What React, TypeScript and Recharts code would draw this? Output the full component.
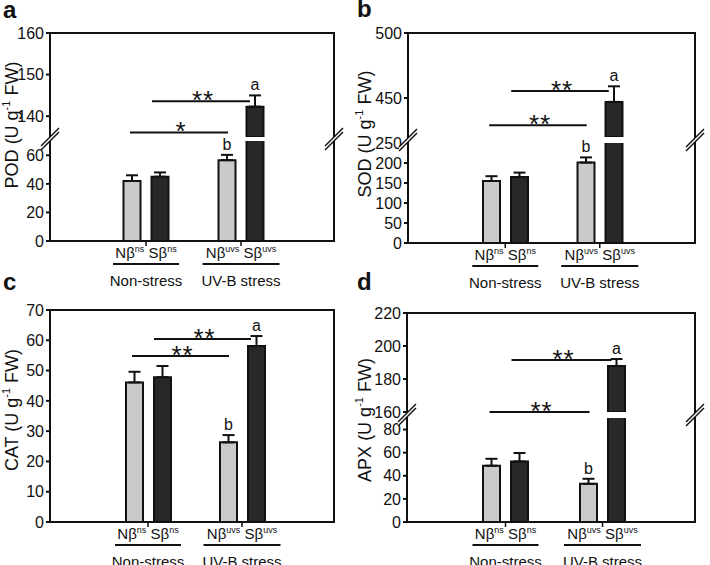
import React from "react";
import { Bar, BarChart, ErrorBar, LabelList, ReferenceLine, XAxis, YAxis } from "recharts";

const groups = ["Non-stress", "UV-B stress"];
const groupSup = ["ns", "uvs"];
const lettersN = ["", "b"];
const lettersS = ["", "a"];

// POD
const podN = [42, 56.6];
const podNErr = [4, 3.7];
const podS = [45, 142.3];
const podSErr = [3, 2.7];
const podTicksUpper = [140, 150, 160];
const podTicksLower = [0, 20, 40, 60];
const podSig = [
  { value: 143.6, text: "**", bar: "s" },
  { value: 136.1, text: "*", bar: "n" },
];

// SOD
const sodN = [155, 201];
const sodNErr = [12, 13];
const sodS = [165, 447];
const sodSErr = [11, 12];
const sodTicksUpper = [450, 500];
const sodTicksLower = [0, 50, 100, 150, 200, 250];
const sodSig = [
  { value: 455.4, text: "**", bar: "s" },
  { value: 429, text: "**", bar: "n" },
];

// CAT
const catN = [46.1, 26.3];
const catNErr = [3.5, 2.4];
const catS = [47.8, 58.1];
const catSErr = [3.7, 3.3];
const catTicks = [0, 10, 20, 30, 40, 50, 60, 70];
const catSig = [
  { value: 60.4, text: "**", bar: "s" },
  { value: 54.8, text: "**", bar: "n" },
];

// APX
const apxN = [48.7, 33];
const apxNErr = [6, 4.4];
const apxS = [52.4, 187.9];
const apxSErr = [7.3, 4.2];
const apxTicksUpper = [160, 180, 200, 220];
const apxTicksLower = [0, 20, 40, 60, 80];
const apxSig = [
  { value: 191.5, text: "**", bar: "s" },
  { value: 160, text: "**", bar: "n" },
];

const INK = "#111";
const YW = 45;
const TOP = 10;
const BOT = 10;
const XH = 60;

// bars below a segment's floor are left out of that segment
const makeRows = (n: number[], nErr: number[], s: number[], sErr: number[], lo: number) =>
  groups.map((g, i) => ({
    group: g,
    n: n[i] >= lo ? n[i] : null,
    nErr: n[i] >= lo ? [0, nErr[i]] : null,
    s: s[i] >= lo ? s[i] : null,
    sErr: s[i] >= lo ? [0, sErr[i]] : null,
  }));

const GroupTick = (props: any) => {
  const { x, y, payload } = props;
  const i = groups.indexOf(payload.value);
  const sup = groupSup[i] || "";
  const half = 22 + sup.length * 5.5;
  return (
    <g>
      <text x={x} y={y + 10} textAnchor="middle" fontSize={15} fill={INK}>
        Nβ
        <tspan fontSize={9} dy={-6}>{sup}</tspan>
        <tspan dy={6}>{"\u00a0Sβ"}</tspan>
        <tspan fontSize={9} dy={-6}>{sup}</tspan>
      </text>
      <line x1={x - half} x2={x + half} y1={y + 16} y2={y + 16} stroke={INK} strokeWidth={2} />
      <text x={x} y={y + 38} textAnchor="middle" fontSize={15} fill={INK}>
        {payload.value}
      </text>
    </g>
  );
};

const letterLabel =
  (letters: string[], values: number[], errs: number[], lo: number, hi: number) => (props: any) => {
    const value = props.value;
    const i = values.indexOf(value);
    const ch = letters[i];
    if (!ch || value == null || value <= lo || value + errs[i] > hi) return null;
    const vb = props.viewBox || props;
    const ppu = vb.height / (value - lo);
    const capY = vb.y - errs[i] * ppu;
    return (
      <text x={vb.x + vb.width / 2} y={capY - 5} textAnchor="middle" fontSize={16} fill={INK}>
        {ch}
      </text>
    );
  };

const SigMark = (props: any) => {
  const { x1, x2, y1, bar, text } = props;
  const a = bar === "n" ? x1 - 16 : x1 + 6;
  const b = bar === "n" ? x2 - 13 : x2 + 9;
  return (
    <g>
      <line x1={a} x2={b} y1={y1} y2={y1} stroke={INK} strokeWidth={2} />
      <text x={(a + b) / 2 + 2} y={y1 + 8} textAnchor="middle" fontSize={26} fill={INK} letterSpacing={1}>
        {text}
      </text>
    </g>
  );
};

type Seg = { domain: [number, number]; ticks: number[]; top: number; bottom: number };

const Segment = (props: { p: any; seg: Seg; last: boolean }) => {
  const { p, seg, last } = props;
  const [lo, hi] = seg.domain;
  const h = seg.bottom - seg.top;
  const width = p.right - p.left;
  const rows = makeRows(p.n, p.nErr, p.s, p.sErr, lo);
  return (
    <div style={{ position: "absolute", left: p.left - YW, top: seg.top - TOP }}>
      <BarChart
        width={YW + width + 10}
        height={TOP + h + (last ? XH : BOT)}
        data={rows}
        margin={{ top: TOP, right: 10, left: 0, bottom: last ? 0 : BOT }}
        barSize={17}
        barGap={11}
      >
        <XAxis
          dataKey="group"
          hide={!last}
          height={XH}
          axisLine={false}
          tickLine={{ stroke: INK, strokeWidth: 1.5 }}
          tickSize={5}
          padding={p.padding}
          interval={0}
          tick={<GroupTick />}
        />
        <YAxis
          type="number"
          width={YW}
          domain={seg.domain}
          ticks={seg.ticks}
          allowDataOverflow
          interval={0}
          axisLine={false}
          tickSize={4}
          tickMargin={2}
          tickLine={{ stroke: INK, strokeWidth: 2 }}
          tick={{ fontSize: 16, fill: INK }}
        />
        <Bar dataKey="n" fill="#cacaca" stroke={INK} strokeWidth={2} isAnimationActive={false}>
          <ErrorBar dataKey="nErr" width={6} stroke={INK} strokeWidth={2} isAnimationActive={false} />
          <LabelList dataKey="n" content={letterLabel(lettersN, p.n, p.nErr, lo, hi)} />
        </Bar>
        <Bar dataKey="s" fill="#282828" stroke={INK} strokeWidth={2} isAnimationActive={false}>
          <ErrorBar dataKey="sErr" width={6} stroke={INK} strokeWidth={2} isAnimationActive={false} />
          <LabelList dataKey="s" content={letterLabel(lettersS, p.s, p.sErr, lo, hi)} />
        </Bar>
        {p.sig
          .filter((d: any) => d.value >= lo && d.value <= hi)
          .map((d: any, k: number) => (
            <ReferenceLine
              key={k}
              segment={[
                { x: groups[0], y: d.value },
                { x: groups[1], y: d.value },
              ]}
              shape={(sp: any) => <SigMark {...sp} text={d.text} bar={d.bar} />}
            />
          ))}
      </BarChart>
    </div>
  );
};

const panels = [
  {
    letter: "a", name: "POD", n: podN, nErr: podNErr, s: podS, sErr: podSErr, sig: podSig,
    left: 50, right: 334, padding: { left: 48.5, right: 45.5 }, labelPos: [12, 125], letterPos: [3, 18],
    segs: [
      { domain: [135, 160], ticks: podTicksUpper, top: 33, bottom: 137 },
      { domain: [0, 70], ticks: podTicksLower, top: 141, bottom: 241 },
    ] as Seg[],
  },
  {
    letter: "b", name: "SOD", n: sodN, nErr: sodNErr, s: sodS, sErr: sodSErr, sig: sodSig,
    left: 408, right: 695, padding: { left: 50, right: 48 }, labelPos: [365, 134], letterPos: [357, 17],
    segs: [
      { domain: [420, 500], ticks: sodTicksUpper, top: 33, bottom: 137 },
      { domain: [0, 250], ticks: sodTicksLower, top: 143, bottom: 243 },
    ] as Seg[],
  },
  {
    letter: "c", name: "CAT", n: catN, nErr: catNErr, s: catS, sErr: catSErr, sig: catSig,
    left: 50, right: 334, padding: { left: 51, right: 45 }, labelPos: [12, 410], letterPos: [3, 290],
    segs: [{ domain: [0, 70], ticks: catTicks, top: 310, bottom: 522 }] as Seg[],
  },
  {
    letter: "d", name: "APX", n: apxN, nErr: apxNErr, s: apxS, sErr: apxSErr, sig: apxSig,
    left: 407, right: 695, padding: { left: 50, right: 44 }, labelPos: [365, 420], letterPos: [357, 290],
    segs: [
      { domain: [160, 220], ticks: apxTicksUpper, top: 313, bottom: 412 },
      { domain: [0, 90], ticks: apxTicksLower, top: 418, bottom: 522 },
    ] as Seg[],
  },
];

const BreakMark = ({ cx, cy }: { cx: number; cy: number }) => (
  <g>
    <polygon
      points={`${cx - 9},${cy + 7} ${cx + 9},${cy - 11} ${cx + 9},${cy - 7} ${cx - 9},${cy + 11}`}
      fill="#fff"
    />
    <line x1={cx - 9} y1={cy + 7} x2={cx + 9} y2={cy - 11} stroke={INK} strokeWidth={1.5} />
    <line x1={cx - 9} y1={cy + 11} x2={cx + 9} y2={cy - 7} stroke={INK} strokeWidth={1.5} />
  </g>
);

export default function App() {
  return (
    <div
      style={{
        position: "absolute",
        left: 0,
        top: 0,
        width: 710,
        height: 565,
        background: "#fff",
        overflow: "hidden",
        fontFamily: "'Liberation Sans', Arial, sans-serif",
      }}
    >
      {panels.map((p) =>
        p.segs.map((seg, k) => (
          <Segment key={`${p.letter}-${k}`} p={p} seg={seg} last={k === p.segs.length - 1} />
        ))
      )}
      <svg
        width={710}
        height={565}
        style={{ position: "absolute", left: 0, top: 0, pointerEvents: "none" }}
      >
        {panels.map((p) => {
          const top = p.segs[0].top;
          const bottom = p.segs[p.segs.length - 1].bottom;
          const breakY = p.segs.length > 1 ? (p.segs[0].bottom + p.segs[1].top) / 2 : null;
          const [lx, ly] = p.labelPos;
          return (
            <g key={p.letter}>
              <rect
                x={p.left}
                y={top}
                width={p.right - p.left}
                height={bottom - top}
                fill="none"
                stroke={INK}
                strokeWidth={2}
              />
              {breakY != null && <BreakMark cx={p.left} cy={breakY} />}
              {breakY != null && <BreakMark cx={p.right} cy={breakY} />}
              <text
                x={lx}
                y={ly}
                transform={`rotate(-90 ${lx} ${ly})`}
                textAnchor="middle"
                dominantBaseline="central"
                fontSize={18}
                fill={INK}
              >
                {p.name} (U g
                <tspan fontSize={11} dy={-6}>-1</tspan>
                <tspan dy={6}>{"\u00a0FW)"}</tspan>
              </text>
              <text x={p.letterPos[0]} y={p.letterPos[1]} fontSize={24} fontWeight="bold" fill={INK}>
                {p.letter}
              </text>
            </g>
          );
        })}
      </svg>
    </div>
  );
}
